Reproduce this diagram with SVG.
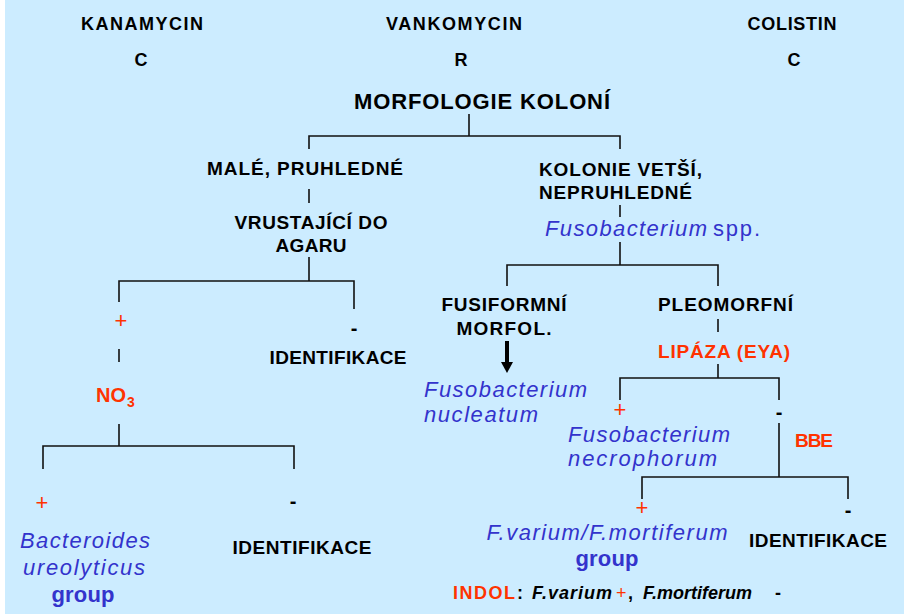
<svg xmlns="http://www.w3.org/2000/svg" width="904" height="614" viewBox="0 0 904 614">
<style>
text{font-family:"Liberation Sans",Arial,sans-serif}
.k{font-weight:bold;fill:#000;font-size:19px}
.t{font-weight:bold;fill:#000;font-size:18px}
.r{font-weight:bold;fill:#FF3300;font-size:19px}
.bi{font-style:italic;fill:#3333CC;font-size:22px}
.bu{fill:#3333CC;font-size:22px;font-weight:bold}
.pl{fill:#FF3300;font-size:22px}
.mi{fill:#000;font-size:20px;font-weight:bold}
.c path{fill:none;stroke:#111;stroke-width:1.6}
</style>
<rect x="0" y="0" width="904" height="614" fill="#FFFFFF"/>
<rect x="5" y="0" width="899" height="614" fill="#CCECFF"/>

<g id="antibiotics">
<text class="t" x="142" y="30" text-anchor="middle" textLength="122">KANAMYCIN</text>
<text class="t" x="454" y="30" text-anchor="middle" textLength="136">VANKOMYCIN</text>
<text class="t" x="792" y="30" text-anchor="middle" textLength="89">COLISTIN</text>
<text class="t" x="141" y="66" text-anchor="middle">C</text>
<text class="t" x="461" y="66" text-anchor="middle">R</text>
<text class="t" x="794" y="66" text-anchor="middle">C</text>
</g>

<g id="n-morfologie"><text class="k" style="font-size:22px" x="482" y="109" text-anchor="middle" textLength="256">MORFOLOGIE KOLONÍ</text></g>
<g id="n-male"><text class="k" x="305" y="175" text-anchor="middle" textLength="196">MALÉ, PRUHLEDNÉ</text></g>
<g id="n-vrustajici">
<text class="k" x="311" y="229" text-anchor="middle" textLength="153">VRUSTAJÍCÍ DO</text>
<text class="k" x="311" y="252" text-anchor="middle" textLength="71">AGARU</text>
</g>
<g id="n-plus1"><text class="pl" x="121" y="328" text-anchor="middle">+</text></g>
<g id="n-minus1"><text class="mi" x="354" y="335" text-anchor="middle">-</text></g>
<g id="n-ident1"><text class="k" x="338" y="364" text-anchor="middle" textLength="137">IDENTIFIKACE</text></g>
<g id="n-no3"><text class="r" style="font-size:20px" x="96" y="402">NO<tspan font-size="14" x="127" y="407">3</tspan></text></g>
<g id="n-plus2"><text class="pl" x="42" y="510" text-anchor="middle">+</text></g>
<g id="n-minus2"><text class="mi" x="293" y="508" text-anchor="middle">-</text></g>
<g id="n-bacteroides">
<text class="bi" x="85" y="548" text-anchor="middle" textLength="130">Bacteroides</text>
<text class="bi" x="84" y="575" text-anchor="middle" textLength="122">ureolyticus</text>
<text class="bu" x="83" y="602" text-anchor="middle" textLength="63">group</text>
</g>
<g id="n-ident2"><text class="k" x="302" y="554" text-anchor="middle" textLength="139">IDENTIFIKACE</text></g>

<g id="n-kolonie">
<text class="k" x="539" y="176" textLength="163">KOLONIE VETŠÍ,</text>
<text class="k" x="539" y="199" textLength="153">NEPRUHLEDNÉ</text>
</g>
<g id="n-fuso-spp"><text class="bi" x="545" y="236"><tspan textLength="162">Fusobacterium</tspan><tspan font-style="normal" x="713" textLength="47">spp.</tspan></text></g>
<g id="n-fusiformni">
<text class="k" x="504" y="311" text-anchor="middle" textLength="125">FUSIFORMNÍ</text>
<text class="k" x="504" y="335" text-anchor="middle" textLength="95">MORFOL.</text>
</g>
<g id="n-nucleatum">
<text class="bi" x="424" y="397" textLength="163">Fusobacterium</text>
<text class="bi" x="424" y="422" textLength="114">nucleatum</text>
</g>
<g id="n-pleomorfni"><text class="k" x="658" y="311" textLength="135">PLEOMORFNÍ</text></g>
<g id="n-lipaza"><text class="r" x="658" y="358" textLength="132">LIPÁZA (EYA)</text></g>
<g id="n-plus3"><text class="pl" x="620" y="417" text-anchor="middle">+</text></g>
<g id="n-minus3"><text class="mi" x="779" y="419" text-anchor="middle">-</text></g>
<g id="n-necrophorum">
<text class="bi" x="568" y="442" textLength="162">Fusobacterium</text>
<text class="bi" x="568" y="466" textLength="149">necrophorum</text>
</g>
<g id="n-bbe"><text class="r" x="795" y="447" textLength="38">BBE</text></g>
<g id="n-plus4"><text class="pl" x="642" y="515" text-anchor="middle">+</text></g>
<g id="n-minus4"><text class="mi" x="848" y="517" text-anchor="middle">-</text></g>
<g id="n-varium">
<text class="bi" x="607" y="540" text-anchor="middle" textLength="241">F.varium/F.mortiferum</text>
<text class="bu" x="607" y="566" text-anchor="middle" textLength="63">group</text>
</g>
<g id="n-ident3"><text class="k" x="818" y="547" text-anchor="middle" textLength="138">IDENTIFIKACE</text></g>
<g id="n-indol"><text class="k" style="font-size:18px" y="599"><tspan x="453" fill="#FF3300" textLength="62">INDOL</tspan><tspan x="517">:</tspan><tspan x="532" font-style="italic" textLength="80">F.varium</tspan><tspan x="616" fill="#FF3300" font-weight="normal">+</tspan><tspan x="628">,</tspan><tspan x="643" font-style="italic" textLength="109">F.mortiferum</tspan><tspan x="775">-</tspan></text></g>

<g id="connectors" class="c">
<path d="M469,114V136M309,149V136H620V149"/>
<path d="M309,189V203"/>
<path d="M309,257V281M119,302V281H354V309"/>
<path d="M119,349V362"/>
<path d="M119,424V446M43,469V446H294V469"/>
<path d="M620,205V217"/>
<path d="M620,242V265M507,286V265H718V286"/>
<path d="M718,319V332"/>
<path d="M718,364V378M620,400V378H779V400"/>
<path d="M779,423V477M642,499V477H848V499"/>
<path d="M507,341V363" style="stroke:#000;stroke-width:4"/>
<polygon points="501,362 513,362 507,373" fill="#000"/>
</g>
</svg>
